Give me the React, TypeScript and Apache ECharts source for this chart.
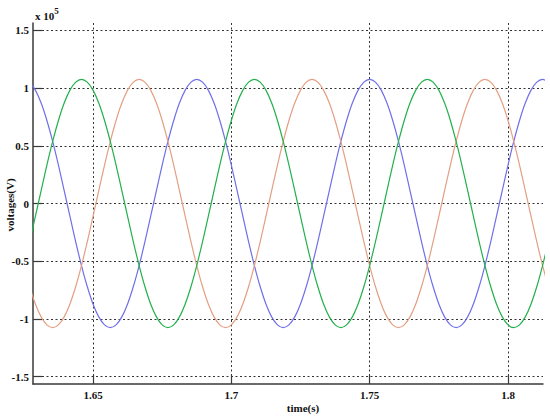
import React, { useEffect, useRef } from "react";
import * as echarts from "echarts";

// time samples (s)
const time = [
  1.62708, 1.62917, 1.63125, 1.63333, 1.63542, 1.6375, 1.63958, 1.64167, 1.64375, 1.64583, 1.64792, 1.65,
  1.65208, 1.65417, 1.65625, 1.65833, 1.66042, 1.6625, 1.66458, 1.66667, 1.66875, 1.67083, 1.67292, 1.675,
  1.67708, 1.67917, 1.68125, 1.68333, 1.68542, 1.6875, 1.68958, 1.69167, 1.69375, 1.69583, 1.69792, 1.7,
  1.70208, 1.70417, 1.70625, 1.70833, 1.71042, 1.7125, 1.71458, 1.71667, 1.71875, 1.72083, 1.72292, 1.725,
  1.72708, 1.72917, 1.73125, 1.73333, 1.73542, 1.7375, 1.73958, 1.74167, 1.74375, 1.74583, 1.74792, 1.75,
  1.75208, 1.75417, 1.75625, 1.75833, 1.76042, 1.7625, 1.76458, 1.76667, 1.76875, 1.77083, 1.77292, 1.775,
  1.77708, 1.77917, 1.78125, 1.78333, 1.78542, 1.7875, 1.78958, 1.79167, 1.79375, 1.79583, 1.79792, 1.8,
  1.80208, 1.80417, 1.80625, 1.80833, 1.81042, 1.8125, 1.81458,
];

// voltages (x 10^5 V)
const phaseBlue = [
  1.052, 0.983, 0.871, 0.72, 0.538, 0.333, 0.112, -0.112, -0.333, -0.538, -0.72, -0.871, -0.983, -1.052, -1.076,
  -1.052, -0.983, -0.871, -0.72, -0.538, -0.333, -0.112, 0.112, 0.333, 0.538, 0.72, 0.871, 0.983, 1.052, 1.076,
  1.052, 0.983, 0.871, 0.72, 0.538, 0.333, 0.112, -0.112, -0.333, -0.538, -0.72, -0.871, -0.983, -1.052, -1.076,
  -1.052, -0.983, -0.871, -0.72, -0.538, -0.333, -0.112, 0.112, 0.333, 0.538, 0.72, 0.871, 0.983, 1.052, 1.076,
  1.052, 0.983, 0.871, 0.72, 0.538, 0.333, 0.112, -0.112, -0.333, -0.538, -0.72, -0.871, -0.983, -1.052, -1.076,
  -1.052, -0.983, -0.871, -0.72, -0.538, -0.333, -0.112, 0.112, 0.333, 0.538, 0.72, 0.871, 0.983, 1.052, 1.076,
  1.052,
];
const phaseRed = [
  -0.72, -0.871, -0.983, -1.052, -1.076, -1.052, -0.983, -0.871, -0.72, -0.538, -0.333, -0.112, 0.112, 0.333, 0.538,
  0.72, 0.871, 0.983, 1.052, 1.076, 1.052, 0.983, 0.871, 0.72, 0.538, 0.333, 0.112, -0.112, -0.333, -0.538,
  -0.72, -0.871, -0.983, -1.052, -1.076, -1.052, -0.983, -0.871, -0.72, -0.538, -0.333, -0.112, 0.112, 0.333, 0.538,
  0.72, 0.871, 0.983, 1.052, 1.076, 1.052, 0.983, 0.871, 0.72, 0.538, 0.333, 0.112, -0.112, -0.333, -0.538,
  -0.72, -0.871, -0.983, -1.052, -1.076, -1.052, -0.983, -0.871, -0.72, -0.538, -0.333, -0.112, 0.112, 0.333, 0.538,
  0.72, 0.871, 0.983, 1.052, 1.076, 1.052, 0.983, 0.871, 0.72, 0.538, 0.333, 0.112, -0.112, -0.333, -0.538,
  -0.72,
];
const phaseGreen = [
  -0.333, -0.112, 0.112, 0.333, 0.538, 0.72, 0.871, 0.983, 1.052, 1.076, 1.052, 0.983, 0.871, 0.72, 0.538,
  0.333, 0.112, -0.112, -0.333, -0.538, -0.72, -0.871, -0.983, -1.052, -1.076, -1.052, -0.983, -0.871, -0.72, -0.538,
  -0.333, -0.112, 0.112, 0.333, 0.538, 0.72, 0.871, 0.983, 1.052, 1.076, 1.052, 0.983, 0.871, 0.72, 0.538,
  0.333, 0.112, -0.112, -0.333, -0.538, -0.72, -0.871, -0.983, -1.052, -1.076, -1.052, -0.983, -0.871, -0.72, -0.538,
  -0.333, -0.112, 0.112, 0.333, 0.538, 0.72, 0.871, 0.983, 1.052, 1.076, 1.052, 0.983, 0.871, 0.72, 0.538,
  0.333, 0.112, -0.112, -0.333, -0.538, -0.72, -0.871, -0.983, -1.052, -1.076, -1.052, -0.983, -0.871, -0.72, -0.538,
  -0.333,
];

const xTicks = [1.65, 1.7, 1.75, 1.8];
const yTicks = [-1.5, -1, -0.5, 0, 0.5, 1, 1.5];

const FONT = "'Liberation Serif', 'DejaVu Serif', serif";

export default function App() {
  const ref = useRef<HTMLDivElement>(null);
  useEffect(() => {
    if (!ref.current) return;
    const chart = echarts.init(ref.current, undefined, { renderer: "svg" });
    const pairs = (ys: number[]) => time.map((t, i) => [t, ys[i]]);
    const axisLineStyle = { color: "#3a3a3a", width: 1.5 };
    const labelStyle = {
      color: "#111",
      fontFamily: FONT,
      fontWeight: "bold" as const,
      fontSize: 11,
    };
    const splitLine = {
      show: true,
      lineStyle: { type: [2, 2.5], color: "#333", width: 1 },
    };
    chart.setOption({
      animation: false,
      backgroundColor: "#fff",
      grid: { left: 33, right: 7, top: 23, bottom: 34, containLabel: false },
      xAxis: {
        type: "value",
        min: 1.62831,
        max: 1.81265,
        axisLine: { show: true, onZero: false, lineStyle: axisLineStyle },
        axisTick: { show: true, inside: true, length: 9, customValues: xTicks, lineStyle: { color: "#3a3a3a", width: 1.2 } },
        axisLabel: { ...labelStyle, margin: 5, customValues: xTicks },
        splitLine,
      },
      yAxis: {
        type: "value",
        min: -1.565,
        max: 1.565,
        axisLine: { show: true, onZero: false, lineStyle: axisLineStyle },
        axisTick: { show: true, inside: true, length: 9, customValues: yTicks, lineStyle: { color: "#3a3a3a", width: 1.2 } },
        axisLabel: { ...labelStyle, margin: 4, customValues: yTicks },
        splitLine,
      },
      graphic: [
        {
          type: "text",
          left: 35,
          top: 6,
          style: {
            text: "{a|x 10}{b|5}",
            rich: {
              a: { fontFamily: FONT, fontWeight: "bold", fontSize: 11, fill: "#111", padding: [6, 0, 0, 0] },
              b: { fontFamily: FONT, fontWeight: "bold", fontSize: 9, fill: "#111", padding: [0, 0, 4, 0] },
            },
          },
        },
        {
          type: "text",
          x: 303,
          y: 408,
          style: {
            text: "time(s)",
            fontFamily: FONT,
            fontWeight: "bold",
            fontSize: 11,
            fill: "#111",
            align: "center",
            verticalAlign: "middle",
          },
        },
        {
          type: "text",
          x: 10,
          y: 205,
          rotation: Math.PI / 2,
          style: {
            text: "voltages(V)",
            fontFamily: FONT,
            fontWeight: "bold",
            fontSize: 11,
            fill: "#111",
            align: "center",
            verticalAlign: "middle",
          },
        },
      ],
      series: [
        {
          name: "phase a",
          type: "line",
          data: pairs(phaseBlue),
          showSymbol: false,
          smooth: 0.3,
          lineStyle: { color: "#6f6fea", width: 1.2 },
        },
        {
          name: "phase b",
          type: "line",
          data: pairs(phaseRed),
          showSymbol: false,
          smooth: 0.3,
          lineStyle: { color: "#e39f82", width: 1.2 },
        },
        {
          name: "phase c",
          type: "line",
          data: pairs(phaseGreen),
          showSymbol: false,
          smooth: 0.3,
          lineStyle: { color: "#22b04b", width: 1.2 },
        },
      ],
    });
    return () => chart.dispose();
  }, []);
  return <div ref={ref} style={{ width: 550, height: 418, position: "absolute", left: 0, top: 0 }} />;
}
